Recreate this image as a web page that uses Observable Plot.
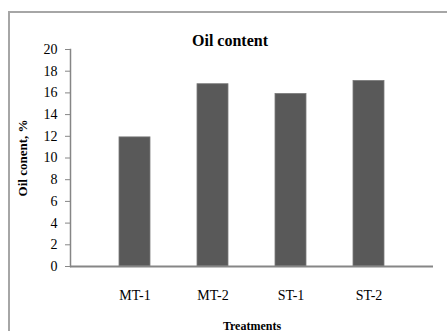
<!DOCTYPE html>
<html>
<head>
<meta charset="utf-8">
<script src="https://cdn.jsdelivr.net/npm/d3@7"></script>
<script src="https://cdn.jsdelivr.net/npm/@observablehq/plot@0.6"></script>
<style>
  html, body { margin: 0; padding: 0; background: #fff; }
  #wrap { position: relative; width: 447px; height: 331px; overflow: hidden; }
  #border { position: absolute; left: 8px; top: 11px; width: 460px; height: 340px; border: 2px solid #a6a6a6; box-sizing: border-box; }
  #chart { position: absolute; left: 0; top: 0; }
  #chart svg text { font-family: 'Liberation Serif', 'Times New Roman', serif; }
</style>
</head>
<body>
<div id="wrap"><div id="border"></div><div id="chart"></div></div>
<script>
const treatments = ["MT-1", "MT-2", "ST-1", "ST-2"];
const oilContent = [11.9, 16.8, 15.9, 17.1];
const yTicks = [0, 2, 4, 6, 8, 10, 12, 14, 16, 18, 20];
const titleText = "Oil content";
const xLabel = "Treatments";
const yLabel = "Oil conent, %";

const data = treatments.map((t, i) => ({treatment: t, value: oilContent[i]}));
const serif = "'Liberation Serif', 'Times New Roman', serif";

const plot = Plot.plot({
  width: 447,
  height: 331,
  marginLeft: 70,
  marginRight: 14,
  marginTop: 49,
  marginBottom: 65,
  style: {fontFamily: serif, fontSize: "13px", color: "#000", background: "transparent"},
  x: {domain: treatments, padding: 0.6, label: null},
  y: {domain: [0, 20], ticks: yTicks, label: null},
  marks: [
    Plot.barY(data, {x: "treatment", y: "value", fill: "#595959", stroke: "#7a7a7a", strokeWidth: 0.8}),
    Plot.axisY({ticks: yTicks, tickSize: 5, tickPadding: 8, label: null, stroke: "#868686", fontSize: 14, fontFamily: serif, fill: "#000"}),
    Plot.frame({anchor: "left", stroke: "#868686", strokeWidth: 1.5}),
    Plot.ruleY([0], {stroke: "#868686", strokeWidth: 2}),
    Plot.axisX({tickSize: 0, tickPadding: 24, label: null, fontSize: 14, fontFamily: serif, fill: "#000"}),
    Plot.text([titleText], {frameAnchor: "top", dy: -4, dx: -22, fontSize: 16, fontWeight: "bold", fontFamily: serif, fill: "#000", lineAnchor: "bottom"}),
    Plot.text([xLabel], {frameAnchor: "bottom", dy: 63, fontSize: 12, fontWeight: "bold", fontFamily: serif, fill: "#000", lineAnchor: "bottom"}),
    Plot.text([yLabel], {frameAnchor: "left", dx: -48, rotate: -90, textAnchor: "middle", fontSize: 13, fontWeight: "bold", fontFamily: serif, fill: "#000"})
  ]
});
document.getElementById("chart").appendChild(plot);
</script>
</body>
</html>
